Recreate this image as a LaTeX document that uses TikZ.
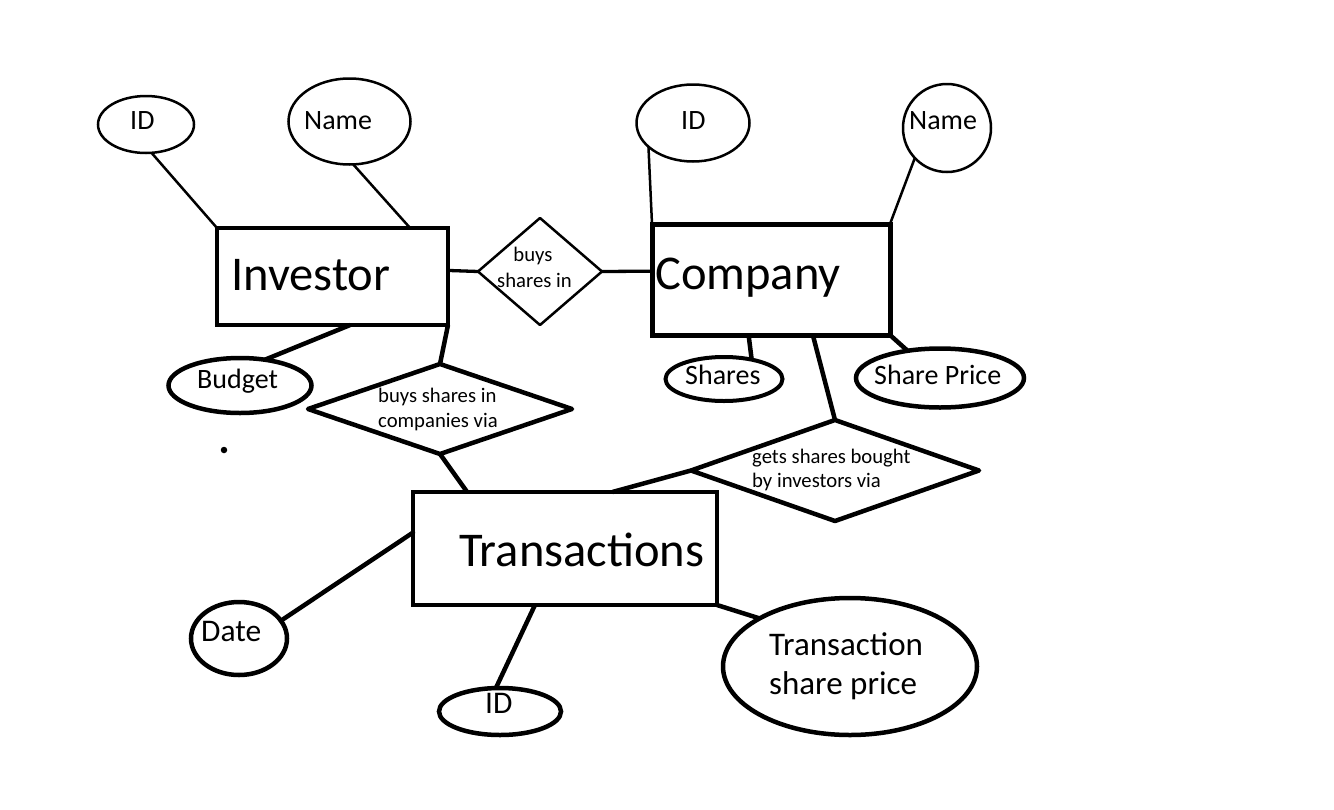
\documentclass[tikz,border=0pt]{standalone}
\usepackage{fontspec}
\setmainfont{Carlito}
\usetikzlibrary{shapes.geometric}
\begin{document}
\begin{tikzpicture}[x=1pt,y=-1pt,
  thinline/.style={line width=2.5pt},
  thickline/.style={line width=4.5pt},
  entity/.style={draw, rectangle, inner sep=0pt, outer sep=0pt},
  attr/.style={draw, ellipse, inner sep=0pt, outer sep=0pt},
  rel/.style={draw, diamond, inner sep=0pt, outer sep=0pt, line join=round},
  lbl/.style={anchor=base west, inner sep=0pt, text=black},
  lblc/.style={anchor=base, inner sep=0pt, text=black},
  bigtxt/.style={font=\fontsize{48.5}{58}\selectfont},
  attrtxt/.style={font=\fontsize{28}{33}\selectfont},
  attrtxtb/.style={font=\fontsize{31.5}{37}\selectfont},
  tsptxt/.style={font=\fontsize{33}{40}\selectfont},
  reltxt/.style={font=\fontsize{20.7}{25}\selectfont}]
\fill[white] (0,0) rectangle (1334,809);
\useasboundingbox (0,0) rectangle (1334,809);

% entities
\node[entity, line width=4.5pt, minimum width=231pt, minimum height=97pt] (inv) at (332.5,276.5) {};
\node[entity, line width=5pt, minimum width=238pt, minimum height=111pt] (comp) at (771,279.5) {};
\node[entity, line width=4.5pt, minimum width=304pt, minimum height=113pt] (trans) at (565,548.5) {};

% attributes
\node[attr, thinline, minimum width=96pt, minimum height=57pt] (invid) at (146,124.5) {};
\node[attr, thinline, minimum width=122pt, minimum height=86pt] (invname) at (349.5,121.5) {};
\node[attr, thinline, minimum width=113pt, minimum height=77pt] (compid) at (693,123) {};
\node[attr, thinline, minimum width=88pt, minimum height=88pt] (compname) at (947,128) {};
\node[attr, line width=4pt, minimum width=117pt, minimum height=44pt] (shares) at (724,379) {};
\node[attr, thickline, minimum width=168pt, minimum height=59pt] (sprice) at (940,378) {};
\node[attr, thickline, minimum width=143pt, minimum height=55pt] (budget) at (240,385.5) {};
\node[attr, thickline, minimum width=96pt, minimum height=73pt] (date) at (239,638.5) {};
\node[attr, thickline, minimum width=122pt, minimum height=47pt] (tid) at (500,711.5) {};
\node[attr, thickline, minimum width=254pt, minimum height=137pt] (tsp) at (850,666.5) {};

% relationships
\node[rel, line width=2.5pt, minimum width=124pt, minimum height=107pt] (d1) at (540,271.5) {};
\node[rel, thickline, minimum width=264pt, minimum height=90pt] (d2) at (440,409) {};
\node[rel, thickline, minimum width=288pt, minimum height=101pt] (d3) at (835,470.5) {};

% stray dot
\node[circle, fill=black, inner sep=0pt, minimum size=6.5pt] (dot) at (224,450) {};

% texts
\node[lbl, bigtxt] (invt) at (231,290) {Investor};
\node[lbl, bigtxt] (compt) at (655,289) {Company};
\node[lbl, bigtxt] (transt) at (459,566) {Transactions};
\node[lbl, attrtxt] (invidt) at (130,129) {ID};
\node[lbl, attrtxt] (invnamet) at (304,129) {Name};
\node[lbl, attrtxt] (compidt) at (681,129) {ID};
\node[lbl, attrtxt] (compnamet) at (909,129) {Name};
\node[lbl, attrtxt] (sharest) at (685,384) {Shares};
\node[lbl, attrtxt] (spricet) at (874,384) {Share Price};
\node[lbl, attrtxt] (budgett) at (197,388) {Budget};
\node[lbl, attrtxtb] (datet) at (201,641) {Date};
\node[lbl, attrtxtb] (tidt) at (485,713) {ID};
\node[lbl, tsptxt] (tspa) at (769,655) {Transaction};
\node[lbl, tsptxt] (tspb) at (769,694) {share price};
\node[lblc, reltxt] (d1a) at (533,261) {buys};
\node[lblc, reltxt] (d1b) at (534.5,287) {shares in};
\node[lbl, reltxt] (d2a) at (378,402) {buys shares in};
\node[lbl, reltxt] (d2b) at (378,427) {companies via};
\node[lbl, reltxt] (d3a) at (752,463) {gets shares bought};
\node[lbl, reltxt] (d3b) at (752,487) {by investors via};

% connectors
\draw[thinline] (invid.281) -- (inv.north west);
\draw[thinline] (invname.275) -- (inv.32);
\draw[line width=3.3pt] (inv.3) -- (d1.west);
\draw[line width=3.3pt] (d1.east) -- (comp.176);
\draw[thinline] (compid.208) -- (comp.north west);
\draw[thinline] (compname.223) -- (comp.north east);
\draw[thickline] (comp.248) -- (shares.35);
\draw[thickline] (comp.south east) -- (sprice.140);
\draw[thickline] (comp.307) -- (d3.north);
\draw[thickline] (inv.290) -- (budget.46);
\draw[thickline] (inv.south east) -- (d2.north);
\draw[thickline] (d2.south) -- (trans.150);
\draw[thickline] (d3.west) -- (trans.50);
\draw[thickline, line cap=round] (trans.174) -- (date.23);
\draw[thickline] (trans.242) -- (tid.100);
\draw[thickline] (trans.south east) -- (tsp.152);
\end{tikzpicture}
\end{document}
